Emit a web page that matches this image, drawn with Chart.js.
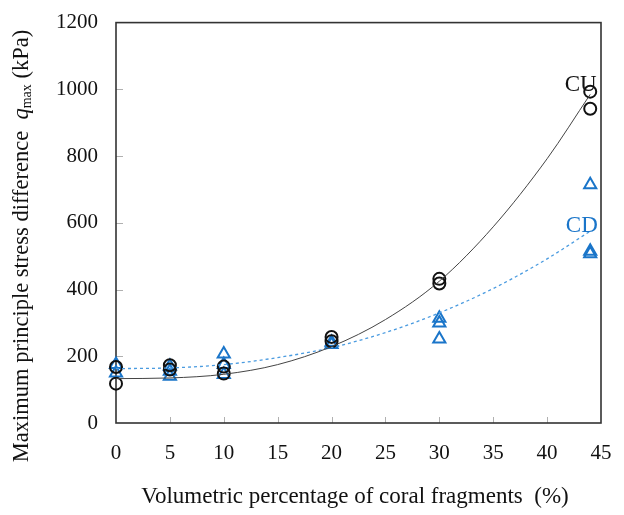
<!DOCTYPE html>
<html lang="en">
<head>
  <meta charset="UTF-8">
  <title>q_max vs coral fragments</title>
  <script src="https://cdn.jsdelivr.net/npm/chart.js"></script>
  <style>
    body {
      margin: 0;
      background: #ffffff;
    }
    .wrap {
      width: 624px;
      height: 515px;
      position: relative;
    }
  </style>
</head>
<body>
  <div class="wrap">
    <canvas id="chart"></canvas>
  </div>

  <script>
    // measured points, CU (circles) and CD (triangles)
    const cuX = [0, 0, 5, 5, 10, 10, 20, 20, 30, 30, 44, 44];
    const cuY = [118, 168, 160, 173, 148, 169, 245, 258, 418, 432, 942, 993];
    const cdX = [0, 0, 5, 5, 5, 10, 10, 10, 20, 20, 30, 30, 30, 44, 44, 44];
    const cdY = [150, 175, 140, 155, 170, 145, 175, 207, 235, 242, 252, 300, 314, 507, 515, 714];

    // trend curves
    const fitX = [0, 5, 10, 15, 20, 25, 30, 35, 40, 44];
    const fitCU = [133, 135, 146, 175, 229, 310, 425, 588, 792, 985];
    const fitCD = [163, 165, 175, 196, 226, 271, 330, 403, 492, 575];

    const xTicks = [0, 5, 10, 15, 20, 25, 30, 35, 40, 45];
    const yTicks = [0, 200, 400, 600, 800, 1000, 1200];

    const curveLabels = [
      { text: "CU", x: 44.6, y: 995, color: "#111111" },
      { text: "CD", x: 44.7, y: 572, color: "#1a75c9" }
    ];

    const xTitle = "Volumetric percentage of coral fragments  (%)";
    const yTitleA = "Maximum principle stress difference  ";
    const yTitleQ = "q";
    const yTitleSub = "max";
    const yTitleB = " (kPa)";

    const SERIF = "'Liberation Serif', 'Times New Roman', serif";
    const BLUE = "#1a75c9";

    function pairs(xs, ys) {
      return xs.map((x, i) => ({ x: x, y: ys[i] }));
    }

    const frame = {
      id: "frame",
      beforeDatasetsDraw(chart) {
        const { ctx, chartArea: a, scales } = chart;
        ctx.save();
        // small inward ticks
        ctx.strokeStyle = "#b0b0b0";
        ctx.lineWidth = 1;
        ctx.beginPath();
        xTicks.slice(1, -1).forEach(v => {
          const px = Math.round(scales.x.getPixelForValue(v)) + 0.5;
          ctx.moveTo(px, a.bottom);
          ctx.lineTo(px, a.bottom - 6);
        });
        yTicks.slice(1, -1).forEach(v => {
          const py = Math.round(scales.y.getPixelForValue(v)) + 0.5;
          ctx.moveTo(a.left, py);
          ctx.lineTo(a.left + 7, py);
        });
        ctx.stroke();
        // box
        ctx.strokeStyle = "#333333";
        ctx.lineWidth = 1.6;
        ctx.strokeRect(a.left, a.top, a.right - a.left, a.bottom - a.top);
        ctx.restore();
      },
      afterDraw(chart) {
        const { ctx, chartArea: a, scales } = chart;
        ctx.save();

        // curve names
        ctx.font = "23px " + SERIF;
        ctx.textAlign = "right";
        ctx.textBaseline = "alphabetic";
        curveLabels.forEach(l => {
          ctx.fillStyle = l.color;
          ctx.fillText(l.text, scales.x.getPixelForValue(l.x), scales.y.getPixelForValue(l.y));
        });

        // x axis title
        ctx.fillStyle = "#111111";
        ctx.font = "23px " + SERIF;
        ctx.textAlign = "center";
        ctx.textBaseline = "middle";
        ctx.fillText(xTitle, 355, 497);

        // y axis title with italic q and subscript
        const big = "22.5px " + SERIF;
        const ital = "italic 22.5px " + SERIF;
        const small = "14px " + SERIF;
        ctx.font = big;
        const wA = ctx.measureText(yTitleA).width;
        const wB = ctx.measureText(yTitleB).width;
        ctx.font = ital;
        const wQ = ctx.measureText(yTitleQ).width;
        ctx.font = small;
        const wS = ctx.measureText(yTitleSub).width;
        const total = wA + wQ + wS + wB;

        ctx.translate(22, 246);
        ctx.rotate(-Math.PI / 2);
        ctx.textAlign = "left";
        ctx.textBaseline = "middle";
        let cx = -total / 2;
        ctx.font = big;
        ctx.fillText(yTitleA, cx, 0);
        cx += wA;
        ctx.font = ital;
        ctx.fillText(yTitleQ, cx, 0);
        cx += wQ;
        ctx.font = small;
        ctx.fillText(yTitleSub, cx, 5);
        cx += wS;
        ctx.font = big;
        ctx.fillText(yTitleB, cx, 0);

        ctx.restore();
      }
    };

    const ctx = document.getElementById("chart").getContext("2d");
    new Chart(ctx, {
      type: "scatter",
      data: {
        datasets: [
          {
            label: "CU fit",
            type: "line",
            data: pairs(fitX, fitCU),
            borderColor: "#444444",
            borderWidth: 1,
            pointRadius: 0,
            cubicInterpolationMode: "monotone",
            fill: false
          },
          {
            label: "CD fit",
            type: "line",
            data: pairs(fitX, fitCD),
            borderColor: "#4a9be0",
            borderWidth: 1.3,
            borderDash: [3, 3],
            pointRadius: 0,
            cubicInterpolationMode: "monotone",
            fill: false
          },
          {
            label: "CU",
            data: pairs(cuX, cuY),
            pointStyle: "circle",
            pointRadius: 6,
            pointBorderWidth: 2,
            borderColor: "#111111",
            backgroundColor: "rgba(0,0,0,0)",
            clip: false
          },
          {
            label: "CD",
            data: pairs(cdX, cdY),
            pointStyle: "triangle",
            pointRadius: 7,
            pointBorderWidth: 2,
            borderColor: BLUE,
            backgroundColor: "rgba(0,0,0,0)",
            clip: false
          }
        ]
      },
      options: {
        responsive: true,
        maintainAspectRatio: false,
        animation: false,
        layout: { padding: { left: 0, top: 18, right: 23, bottom: 0 } },
        plugins: {
          legend: { display: false },
          tooltip: { enabled: false }
        },
        scales: {
          x: {
            type: "linear",
            min: 0,
            max: 45,
            grid: { display: false },
            border: { display: false },
            ticks: {
              stepSize: 5,
              color: "#111111",
              padding: 10,
              font: { family: SERIF, size: 21 },
              callback: v => String(v)
            },
            afterFit(scale) { scale.height = 92; }
          },
          y: {
            min: 0,
            max: 1200,
            grid: { display: false },
            border: { display: false },
            ticks: {
              stepSize: 200,
              color: "#111111",
              padding: 10,
              font: { family: SERIF, size: 21 },
              callback: v => String(v)
            },
            afterFit(scale) { scale.width = 116; }
          }
        }
      },
      plugins: [frame]
    });
  </script>
</body>
</html>
